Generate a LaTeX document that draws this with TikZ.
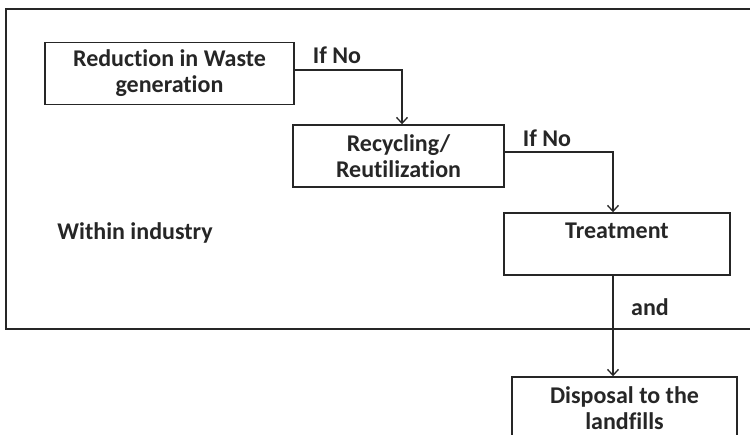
\documentclass[tikz,border=0pt]{standalone}
\usepackage{fontspec}
\setmainfont[Ligatures=NoCommon]{Carlito}
\usetikzlibrary{arrows.meta}
\definecolor{ink}{HTML}{262626}
\begin{document}
\begin{tikzpicture}[x=1pt,y=-1pt,
  box/.style={draw=ink,line width=1.4pt,rectangle,inner sep=0pt,align=center,text=ink,
    font=\fontsize{24}{26}\selectfont\bfseries},
  lbl/.style={text=ink,inner sep=0pt,font=\fontsize{24}{26}\selectfont\bfseries},
  arr/.style={draw=ink,line width=1.3pt,-{Straight Barb[length=6pt,width=11pt,line width=1.3pt]}},
  frame/.style={draw=ink,line width=2pt}]
\useasboundingbox (0,0) rectangle (750,435);
\clip (0,0) rectangle (750,435);
\fill[white] (0,0) rectangle (750,435);
% outer frame (open to the right)
\draw[frame] (751,9) -- (6,9) -- (6,329) -- (751,329);
% boxes
\node[box,minimum width=249pt,minimum height=62pt] (b1) at (169.5,73.5) {Reduction in Waste\\generation};
\node[box,minimum width=211pt,minimum height=62pt] (b2) at (398.5,156) {Recycling/\\Reutilization};
\node[box,minimum width=226pt,minimum height=62pt] (b3) at (617,244) {Treatment\\\mbox{}};
\node[box,minimum width=225pt,minimum height=62pt] (b4) at (624.5,408) {Disposal to the\\landfills};
% labels
\node[lbl] (l1) at (337,55) {If No};
\node[lbl] (l2) at (547,138) {If No};
\node[lbl] (l3) at (650,307) {and};
\node[lbl] (l4) at (135,233) {Within industry};
% connectors
\draw[arr] ([yshift=3.5pt]b1.east) -| ([xshift=3.5pt]b2.north);
\draw[arr] ([yshift=4pt]b2.east) -| ([xshift=-4pt]b3.north);
\draw[arr] ([xshift=-4pt]b3.south) -- ([xshift=-4pt]b3.south |- b4.north);
\end{tikzpicture}
\end{document}
